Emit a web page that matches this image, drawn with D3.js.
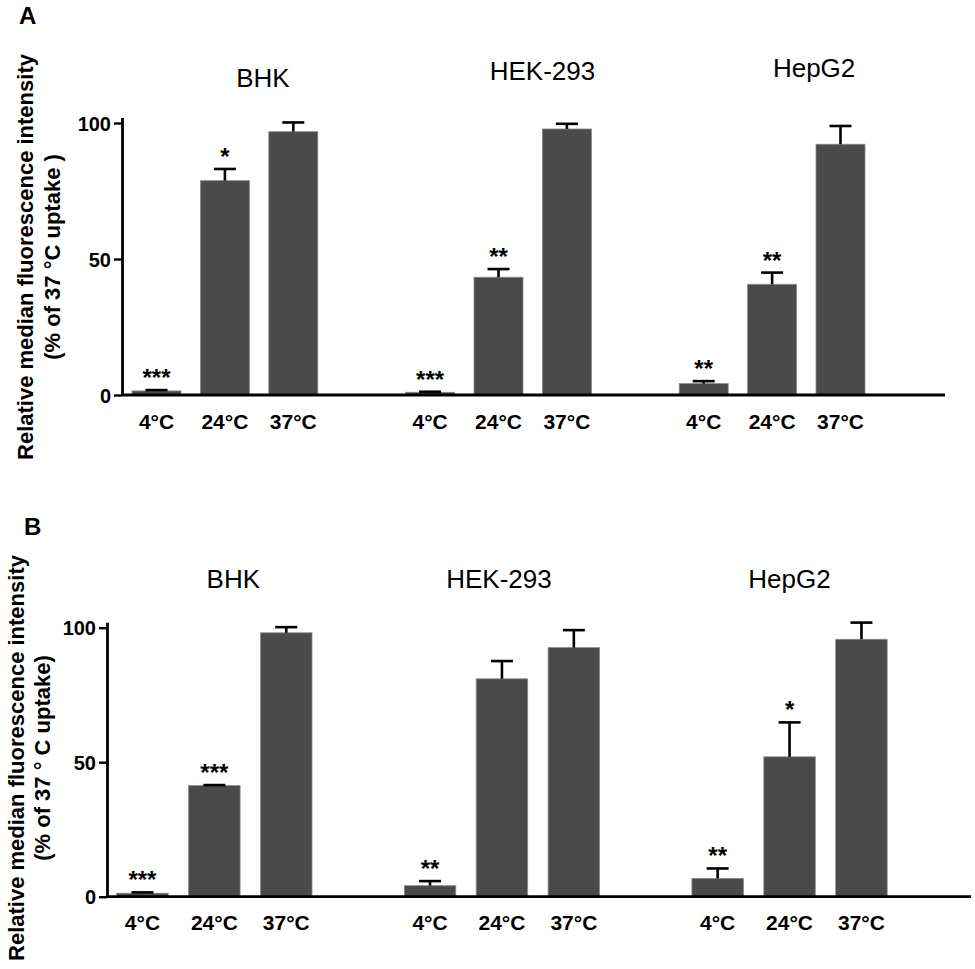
<!DOCTYPE html>
<html>
<head>
<meta charset="utf-8">
<script src="https://cdn.jsdelivr.net/npm/d3@7"></script>
<style>
  body { margin: 0; background: #fff; }
  text { font-family: "Liberation Sans", Arial, sans-serif; }
</style>
</head>
<body>
<div id="chart"></div>
<script>
// cell lines and incubation temperatures
const cellLines = ["BHK", "HEK-293", "HepG2"];
const temps = ["4°C", "24°C", "37°C"];
const yTicks = [0, 50, 100];

// panel A: relative median fluorescence (% of 37 °C), mean and SEM
const meanA = [[1.5, 78.8, 96.8], [1.0, 43.3, 97.8], [4.2, 40.7, 92.2]];
const semA  = [[0.3, 4.3, 3.4],  [0.2, 3.0, 1.9],  [0.9, 4.3, 6.7]];
const starsA = [["***", "*", ""], ["***", "**", ""], ["**", "**", ""]];

// panel B
const meanB = [[1.3, 41.3, 98.1], [4.1, 81.0, 92.6], [6.8, 52.0, 95.7]];
const semB  = [[0.3, 0.2, 2.1],  [1.7, 6.6, 6.5],  [3.7, 12.8, 6.2]];
const starsB = [["***", "***", ""], ["**", "", ""], ["**", "*", ""]];

const svg = d3.select("#chart").append("svg")
    .attr("width", 975)
    .attr("height", 969);

// layout of each panel (pixels)
const panels = [
  { letter: "A", lx: 19, ly: 24, mean: meanA, sem: semA, stars: starsA,
    axisX: 122, y0: 395, k: 2.72, first: 132, step: 68.4, bw: 49, axisEnd: 945,
    titleY: [87, 80, 77], titleDx: [38, 44, 42], tickY: 429,
    ytitle: ["Relative median fluorescence intensity", "(% of 37 °C uptake )"],
    ytitleX: [33, 60], ytitleY: 257 },
  { letter: "B", lx: 24, ly: 535, mean: meanB, sem: semB, stars: starsB,
    axisX: 107, y0: 896.7, k: 2.69, first: 116.7, step: 71.9, bw: 51.5, axisEnd: 971,
    titleY: [588, 588, 588], titleDx: [19, -3, 0], tickY: 930,
    ytitle: ["Relative median fluorescence intensity", "(% of 37 ° C uptake)"],
    ytitleX: [24, 50], ytitleY: 758 }
];

panels.forEach(p => {
  const g = svg.append("g");

  // one slot per bar plus an empty slot between cell lines
  const slots = [];
  cellLines.forEach((c, i) => {
    temps.forEach((t, j) => slots.push(c + "|" + t));
    if (i < cellLines.length - 1) slots.push("gap" + i);
  });
  const r0 = p.first - (p.step - p.bw) / 2;
  const x = d3.scaleBand()
      .domain(slots)
      .range([r0, r0 + slots.length * p.step])
      .paddingInner(1 - p.bw / p.step)
      .paddingOuter((1 - p.bw / p.step) / 2);

  const y = d3.scaleLinear()
      .domain([0, 102])
      .range([p.y0, p.y0 - 102 * p.k]);

  const rows = [];
  cellLines.forEach((c, i) => temps.forEach((t, j) => rows.push({
    key: c + "|" + t, temp: t, mean: p.mean[i][j], sem: p.sem[i][j], star: p.stars[i][j]
  })));

  // bars
  g.selectAll("rect.bar").data(rows).enter().append("rect")
      .attr("class", "bar")
      .attr("x", d => x(d.key))
      .attr("width", x.bandwidth())
      .attr("y", d => y(d.mean))
      .attr("height", d => y(0) - y(d.mean))
      .attr("fill", "#4a4a4a")
      .attr("stroke", "#8a8a8a")
      .attr("stroke-width", 0.8);

  // error bars (upper only)
  const cap = 11;
  const eb = g.selectAll("g.err").data(rows).enter().append("g")
      .attr("class", "err")
      .attr("stroke", "#000")
      .attr("stroke-width", 2.6);
  eb.append("line")
      .attr("x1", d => x(d.key) + x.bandwidth() / 2)
      .attr("x2", d => x(d.key) + x.bandwidth() / 2)
      .attr("y1", d => y(d.mean))
      .attr("y2", d => y(d.mean + d.sem));
  eb.append("line")
      .attr("x1", d => x(d.key) + x.bandwidth() / 2 - cap)
      .attr("x2", d => x(d.key) + x.bandwidth() / 2 + cap)
      .attr("y1", d => y(d.mean + d.sem))
      .attr("y2", d => y(d.mean + d.sem));

  // significance stars
  g.selectAll("text.star").data(rows.filter(d => d.star)).enter().append("text")
      .attr("class", "star")
      .attr("x", d => x(d.key) + x.bandwidth() / 2)
      .attr("y", d => y(d.mean + d.sem) - 4)
      .attr("text-anchor", "middle")
      .attr("font-size", 24)
      .attr("font-weight", "bold")
      .text(d => d.star);

  // y axis
  const yAxis = g.append("g")
      .attr("transform", `translate(${p.axisX},0)`)
      .call(d3.axisLeft(y).tickValues(yTicks).tickSize(8).tickPadding(3).tickSizeOuter(0));
  yAxis.select(".domain").attr("stroke-width", 2.8);
  yAxis.selectAll(".tick line").attr("stroke-width", 2.4);
  yAxis.selectAll(".tick text")
      .attr("font-size", 20).attr("font-weight", "bold")
      .attr("font-family", "Liberation Sans, Arial, sans-serif")
      .attr("fill", "#000").attr("dy", "0.36em");

  // x axis baseline and temperature labels
  g.append("line")
      .attr("x1", p.axisX).attr("x2", p.axisEnd)
      .attr("y1", y(0)).attr("y2", y(0))
      .attr("stroke", "#000").attr("stroke-width", 2.8);

  g.selectAll("text.tlab").data(rows).enter().append("text")
      .attr("class", "tlab")
      .attr("x", d => x(d.key) + x.bandwidth() / 2)
      .attr("y", p.tickY)
      .attr("text-anchor", "middle")
      .attr("font-size", 21)
      .attr("font-weight", "bold")
      .text(d => d.temp);

  // cell line titles
  cellLines.forEach((c, i) => {
    const cx = (x(c + "|" + temps[0]) + x(c + "|" + temps[2]) + x.bandwidth()) / 2;
    g.append("text")
        .attr("x", cx + p.titleDx[i])
        .attr("y", p.titleY[i])
        .attr("text-anchor", "middle")
        .attr("font-size", 26)
        .text(c);
  });

  // y axis title
  p.ytitle.forEach((t, i) => {
    g.append("text")
        .attr("transform", `translate(${p.ytitleX[i]},${p.ytitleY}) rotate(-90)`)
        .attr("text-anchor", "middle")
        .attr("font-size", 22)
        .attr("font-weight", "bold")
        .text(t);
  });

  // panel letter
  g.append("text")
      .attr("x", p.lx).attr("y", p.ly)
      .attr("font-size", 24)
      .attr("font-weight", "bold")
      .text(p.letter);
});
</script>
</body>
</html>
